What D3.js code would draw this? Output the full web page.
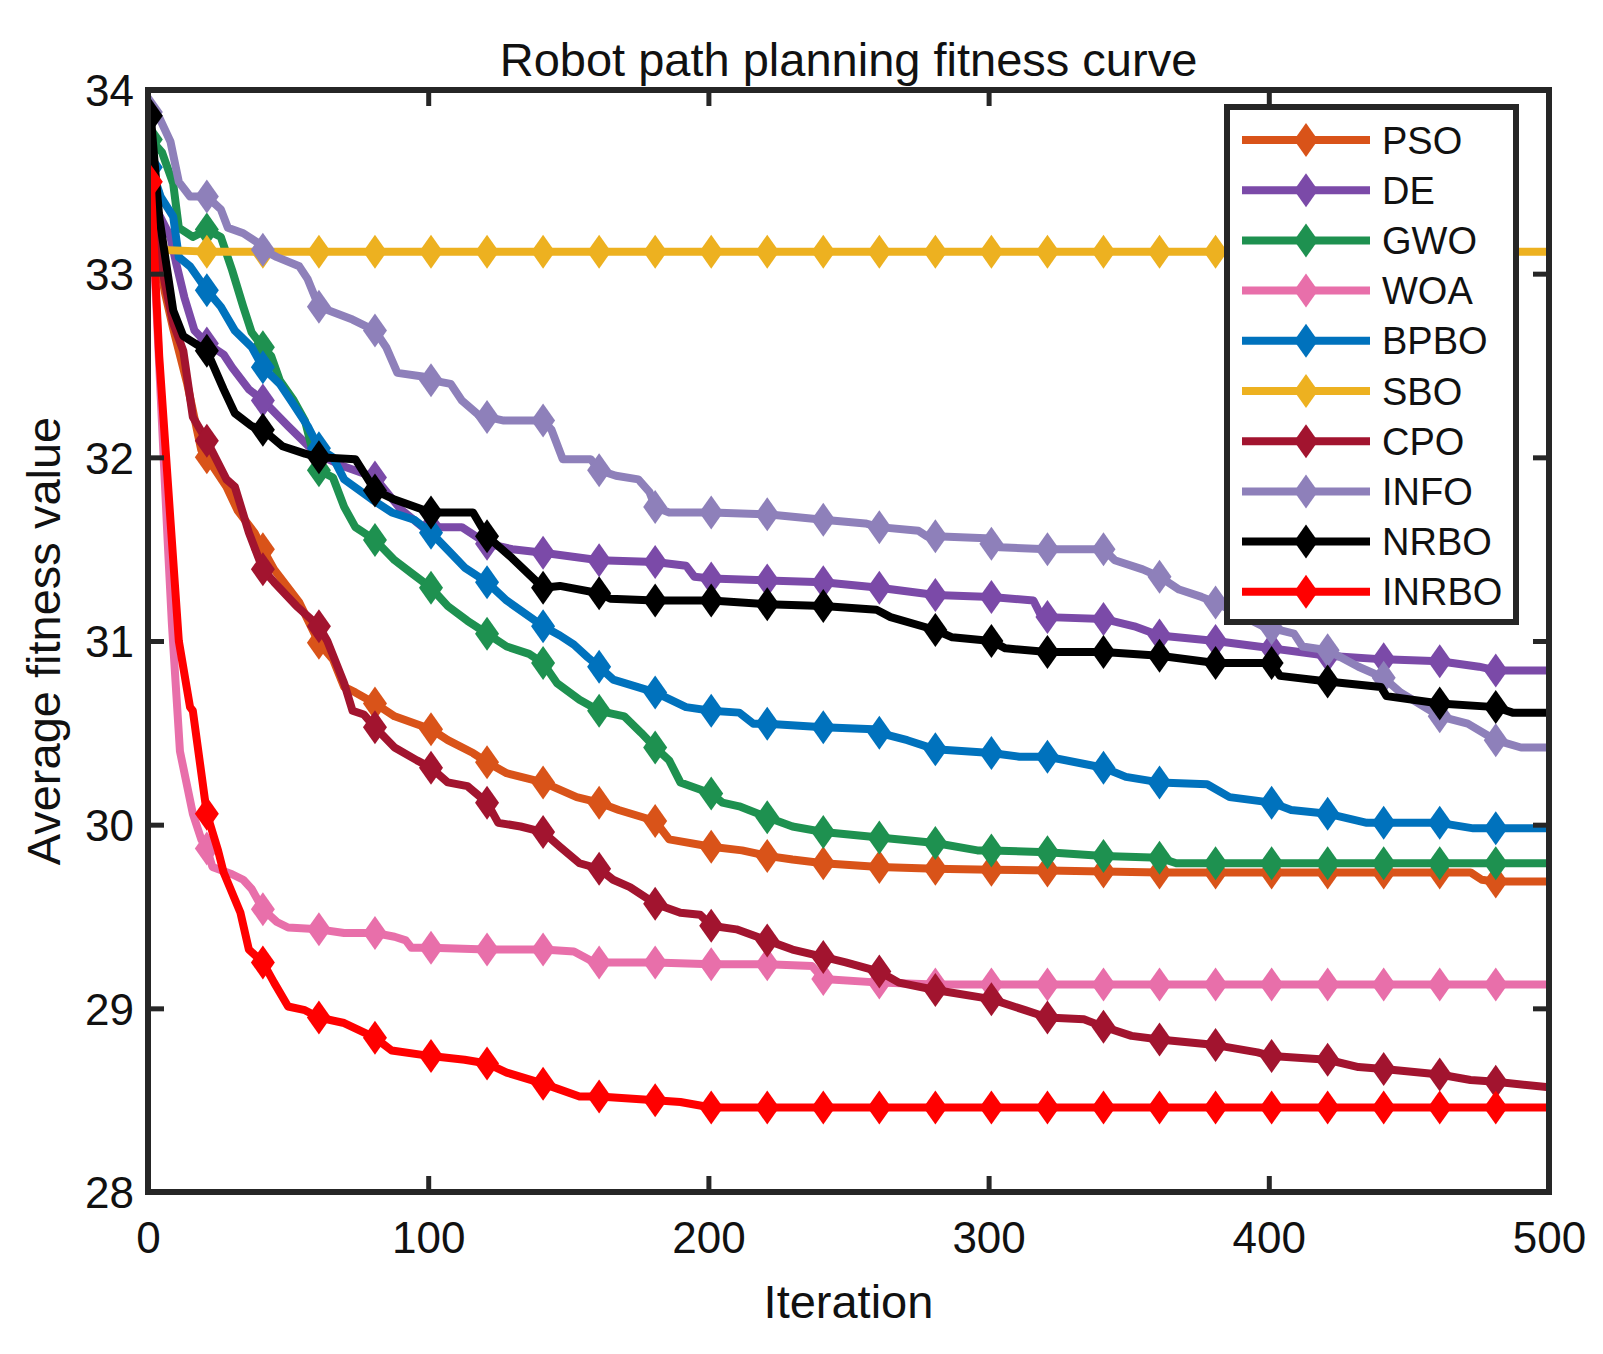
<!DOCTYPE html>
<html><head><meta charset="utf-8">
<script src="https://cdn.jsdelivr.net/npm/d3@7"></script>
<style>
body{margin:0;background:#fff}
svg{display:block}
text{font-family:"Liberation Sans",Arial,Helvetica,sans-serif;fill:#111}
</style></head>
<body><svg id="c" width="1603" height="1354"></svg>
<script>
// ---------- DATA (iteration, average fitness) ----------
const seriesNames = ["PSO","DE","GWO","WOA","BPBO","SBO","CPO","INFO","NRBO","INRBO"];
const seriesColors = ["#D95319","#7B4AA8","#1E9150","#E86FAA","#0072BD","#EDB120","#A2142F","#8E80BA","#000000","#FF0000"];
const xTicks = [0,100,200,300,400,500];
const yTicks = [28,29,30,31,32,33,34];

const PSO = [[0,33.30],[1,33.28],[3,33.15],[6,32.9],[9,32.7],[14,32.40],[19,32.04],[21,32.0],[28,31.84],[32,31.71],[38,31.59],[41,31.50],[45,31.39],[54,31.21],[61,30.99],[66,30.90],[70,30.75],[74,30.72],[81,30.66],[88,30.59],[101,30.52],[107,30.46],[116,30.39],[121,30.34],[128,30.28],[141,30.23],[153,30.15],[161,30.12],[168,30.08],[181,30.02],[186,29.92],[201,29.88],[212,29.86],[221,29.83],[230,29.81],[241,29.79],[261,29.77],[281,29.76],[301,29.755],[321,29.75],[341,29.745],[361,29.74],[381,29.74],[401,29.74],[421,29.74],[441,29.74],[461,29.74],[472,29.74],[476,29.70],[481,29.69],[500,29.69]];
const DE = [[0,33.45],[1,33.42],[3,33.35],[8,33.2],[10,33.06],[13,32.87],[16.6,32.69],[21,32.62],[27,32.56],[30,32.49],[36,32.37],[41,32.31],[50,32.17],[60,32.02],[70,31.95],[81,31.89],[90,31.72],[98,31.62],[101,31.62],[112,31.62],[121,31.53],[130,31.50],[141,31.48],[161,31.44],[181,31.43],[192,31.41],[195,31.35],[201,31.34],[221,31.33],[241,31.32],[261,31.29],[281,31.25],[301,31.24],[316,31.22],[319,31.13],[321,31.13],[341,31.12],[352,31.08],[361,31.03],[381,31.00],[401,30.96],[411,30.94],[421,30.92],[441,30.90],[461,30.89],[475,30.86],[481,30.84],[500,30.84]];
const GWO = [[0,33.75],[1,33.73],[5,33.66],[9,33.49],[11,33.25],[16,33.20],[21,33.24],[26,33.20],[30,33.02],[34,32.82],[37,32.68],[41,32.60],[44,32.55],[47,32.42],[52,32.31],[56,32.20],[59,32.02],[61,31.93],[66,31.89],[70,31.73],[74,31.62],[81,31.55],[88,31.44],[94,31.37],[101,31.29],[107,31.19],[114,31.11],[121,31.04],[128,30.97],[136,30.93],[141,30.88],[146,30.77],[154,30.68],[161,30.62],[170,30.59],[176,30.50],[181,30.42],[186,30.35],[190,30.23],[201,30.17],[205,30.12],[211,30.10],[221,30.04],[230,29.99],[241,29.96],[261,29.93],[281,29.90],[296,29.86],[301,29.86],[321,29.85],[341,29.83],[361,29.82],[367,29.79],[381,29.79],[401,29.79],[421,29.79],[441,29.79],[461,29.79],[481,29.79],[500,29.79]];
const WOA = [[0,33.47],[1,33.45],[4,32.5],[7,31.55],[8.5,31.1],[11.4,30.4],[16,30.06],[19,29.92],[21,29.87],[23,29.77],[30,29.73],[34,29.70],[37,29.65],[41,29.54],[46,29.47],[50,29.44],[61,29.43],[70,29.41],[81,29.41],[88,29.39],[92,29.37],[94,29.33],[101,29.33],[121,29.32],[141,29.32],[152,29.31],[158,29.26],[161,29.25],[181,29.25],[201,29.24],[221,29.24],[237,29.23],[241,29.16],[261,29.14],[281,29.13],[301,29.13],[321,29.13],[341,29.13],[361,29.13],[381,29.13],[401,29.13],[421,29.13],[441,29.13],[461,29.13],[481,29.13],[500,29.13]];
const BPBO = [[0,33.62],[1,33.58],[4.5,33.42],[9,33.31],[11,33.09],[15,33.04],[21,32.91],[26,32.82],[31,32.69],[37,32.60],[41,32.49],[47,32.40],[51,32.31],[57,32.17],[61,32.05],[66,32.0],[70,31.88],[80,31.77],[87,31.70],[95,31.66],[101,31.59],[108,31.48],[113,31.40],[121,31.32],[128,31.22],[141,31.08],[147,31.03],[152,30.98],[157,30.91],[161,30.86],[166,30.79],[181,30.72],[192,30.64],[201,30.62],[211,30.61],[216,30.55],[221,30.55],[241,30.53],[259,30.52],[261,30.50],[271,30.46],[281,30.41],[301,30.39],[311,30.37],[321,30.37],[341,30.31],[349,30.26],[361,30.23],[378,30.22],[386,30.15],[401,30.12],[408,30.08],[421,30.06],[435,30.01],[441,30.01],[461,30.01],[473,29.98],[481,29.98],[500,29.98]];
const SBO = [[0,33.26],[1,33.24],[3,33.13],[21,33.12],[41,33.12],[61,33.12],[81,33.12],[101,33.12],[121,33.12],[141,33.12],[161,33.12],[181,33.12],[201,33.12],[221,33.12],[241,33.12],[261,33.12],[281,33.12],[301,33.12],[321,33.12],[341,33.12],[361,33.12],[381,33.12],[401,33.12],[421,33.12],[441,33.12],[461,33.12],[481,33.12],[500,33.12]];
const CPO = [[0,33.37],[1,33.33],[3,33.2],[6,32.95],[9,32.73],[12.6,32.58],[16,32.22],[21,32.09],[28,31.88],[31,31.84],[36,31.59],[41,31.39],[45,31.32],[53,31.19],[61,31.08],[64,31.0],[70,30.77],[73,30.62],[77,30.60],[81,30.53],[88,30.42],[96,30.35],[101,30.31],[107,30.23],[114,30.21],[121,30.12],[125,30.01],[133,29.99],[141,29.96],[147,29.88],[154,29.79],[161,29.76],[166,29.70],[172,29.66],[181,29.57],[190,29.52],[197,29.51],[201,29.45],[210,29.43],[221,29.37],[230,29.32],[241,29.28],[249,29.25],[261,29.20],[268,29.14],[281,29.10],[301,29.05],[313,28.99],[321,28.95],[334,28.94],[341,28.90],[351,28.85],[361,28.83],[381,28.80],[396,28.76],[401,28.74],[421,28.72],[432,28.68],[441,28.67],[461,28.64],[472,28.61],[481,28.60],[500,28.57]];
const INFO = [[0,33.90],[1,33.88],[4,33.85],[8,33.72],[11,33.50],[15,33.42],[21,33.42],[26,33.35],[28.5,33.25],[34,33.22],[39,33.17],[41,33.13],[46,33.09],[54,33.04],[57,32.97],[61,32.82],[73,32.75],[81,32.69],[85,32.60],[89,32.46],[98,32.44],[101,32.42],[108,32.40],[112,32.31],[118,32.23],[121,32.22],[127,32.20],[141,32.20],[144,32.15],[148,31.99],[158,31.99],[161,31.93],[167,31.90],[175,31.88],[179,31.81],[181,31.73],[186,31.70],[201,31.70],[221,31.69],[241,31.66],[256,31.64],[261,31.62],[275,31.60],[278,31.57],[281,31.57],[299,31.56],[301,31.53],[304,31.51],[321,31.50],[341,31.50],[345,31.44],[355,31.39],[361,31.35],[368,31.28],[376,31.24],[381,31.21],[398,31.08],[401,31.07],[409,31.04],[412,30.97],[421,30.95],[432,30.86],[441,30.80],[447,30.72],[461,30.59],[471,30.55],[481,30.46],[490,30.42],[500,30.42]];
const NRBO = [[0,33.88],[1,33.86],[2,33.67],[4,33.31],[9,32.80],[12.6,32.66],[21,32.58],[27,32.37],[31,32.24],[37,32.17],[41,32.15],[48,32.06],[56,32.02],[61,32.0],[74,31.99],[81,31.82],[88,31.77],[101,31.70],[116,31.70],[121,31.57],[130,31.45],[141,31.29],[147,31.30],[161,31.26],[165,31.23],[181,31.22],[201,31.22],[221,31.20],[241,31.19],[260,31.17],[265,31.13],[281,31.06],[287,31.02],[301,31.00],[306,30.96],[321,30.94],[341,30.94],[361,30.92],[381,30.88],[401,30.88],[404,30.81],[421,30.78],[440,30.75],[442,30.70],[461,30.66],[481,30.64],[487,30.61],[500,30.61]];
const INRBO = [[0,33.52],[1,33.50],[4,32.55],[8,31.66],[11,31.0],[15,30.64],[16,30.62],[21,30.06],[25,29.86],[27,29.74],[33,29.52],[36,29.32],[41,29.25],[45,29.14],[50,29.01],[56,28.99],[61,28.95],[70,28.92],[81,28.84],[87,28.77],[101,28.74],[113,28.72],[121,28.70],[128,28.65],[141,28.59],[154,28.52],[161,28.52],[181,28.50],[190,28.49],[201,28.46],[221,28.46],[241,28.46],[261,28.46],[281,28.46],[301,28.46],[321,28.46],[341,28.46],[361,28.46],[381,28.46],[401,28.46],[421,28.46],[441,28.46],[461,28.46],[481,28.46],[500,28.46]];

const seriesData = [PSO,DE,GWO,WOA,BPBO,SBO,CPO,INFO,NRBO,INRBO];

// ---------- LAYOUT ----------
const svg = d3.select("#c");
const L = 148, R = 1549, T = 90, B = 1192;
const frameColor = "#262626";
const x = d3.scaleLinear().domain([0,500]).range([L,R]);
const y = d3.scaleLinear().domain([28,34]).range([B,T]);

svg.append("rect").attr("width",1603).attr("height",1354).attr("fill","#fff");

svg.append("defs").append("clipPath").attr("id","clip")
  .append("rect").attr("x",L).attr("y",T-20).attr("width",R-L).attr("height",B-T+20);

const diamond = "M0,-17L12,0L0,17L-12,0Z";

// lines
const line = d3.line().x(d=>x(d[0])).y(d=>y(d[1]));
const plot = svg.append("g");
seriesData.forEach((data,i)=>{
  const g = plot.append("g").attr("clip-path","url(#clip)");
  g.append("path").datum(data).attr("d",line)
    .attr("fill","none").attr("stroke",seriesColors[i]).attr("stroke-width",8)
    .attr("stroke-linejoin","round").attr("stroke-linecap","round");
  g.selectAll("path.m").data(data.filter(d=>d[0]%20===1)).join("path").attr("class","m")
    .attr("d",diamond).attr("transform",d=>`translate(${x(d[0])},${y(d[1])})`)
    .attr("fill",seriesColors[i]);
});

// axes (inward ticks on all sides)
const tickLen = 16;
const axB = svg.append("g").attr("transform",`translate(0,${B})`)
  .call(d3.axisBottom(x).tickValues(xTicks).tickSize(-tickLen).tickPadding(30).tickFormat(d3.format("d")));
const axL = svg.append("g").attr("transform",`translate(${L},0)`)
  .call(d3.axisLeft(y).tickValues(yTicks).tickSize(-tickLen).tickPadding(14).tickFormat(d3.format("d")));
const axT = svg.append("g").attr("transform",`translate(0,${T})`)
  .call(d3.axisTop(x).tickValues(xTicks).tickSize(-tickLen).tickFormat(""));
const axR = svg.append("g").attr("transform",`translate(${R},0)`)
  .call(d3.axisRight(y).tickValues(yTicks).tickSize(-tickLen).tickFormat(""));
[axB,axL,axT,axR].forEach(a=>{
  a.select(".domain").remove();
  a.selectAll(".tick line").attr("stroke",frameColor).attr("stroke-width",5);
  a.selectAll(".tick text").attr("font-size",44).attr("fill","#111")
    .attr("font-family",'"Liberation Sans",Arial,sans-serif');
});
axL.selectAll(".tick text").attr("dy","0.36em");

// frame
svg.append("rect").attr("x",L).attr("y",T).attr("width",R-L).attr("height",B-T)
  .attr("fill","none").attr("stroke",frameColor).attr("stroke-width",6);

// title & labels
svg.append("text").attr("x",(L+R)/2).attr("y",76).attr("text-anchor","middle")
  .attr("font-size",47).text("Robot path planning fitness curve");
svg.append("text").attr("x",(L+R)/2).attr("y",1318).attr("text-anchor","middle")
  .attr("font-size",47).text("Iteration");
svg.append("text").attr("transform",`translate(60,${(T+B)/2}) rotate(-90)`)
  .attr("text-anchor","middle").attr("font-size",47).text("Average fitness value");

// legend
const lg = svg.append("g");
lg.append("rect").attr("x",1227).attr("y",107).attr("width",289).attr("height",515)
  .attr("fill","#fff").attr("stroke",frameColor).attr("stroke-width",6);
seriesNames.forEach((n,i)=>{
  const yy = 140 + i*50.2;
  lg.append("line").attr("x1",1242).attr("x2",1370).attr("y1",yy).attr("y2",yy)
    .attr("stroke",seriesColors[i]).attr("stroke-width",8);
  lg.append("path").attr("d",diamond).attr("transform",`translate(1306,${yy})`).attr("fill",seriesColors[i]);
  lg.append("text").attr("x",1382).attr("y",yy).attr("dy","0.36em").attr("font-size",38).text(n);
});
</script></body></html>
